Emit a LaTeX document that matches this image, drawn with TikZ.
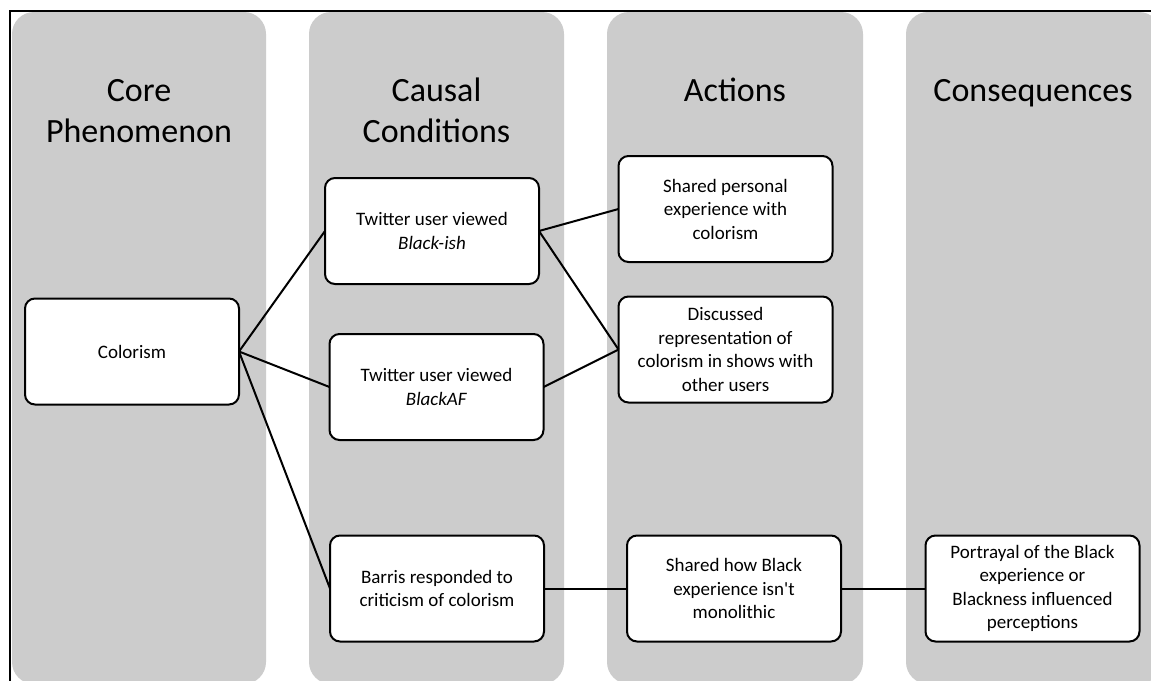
\documentclass[tikz,border=0pt]{standalone}
\usepackage{fontspec}
\setmainfont{Carlito}
\definecolor{colgray}{RGB}{204,204,204}
\begin{document}
\begin{tikzpicture}[x=1pt,y=-1pt,
  column/.style={fill=colgray, rounded corners=22pt},
  box/.style={draw, line width=2pt, fill=white, rounded corners=10pt,
    minimum width=214pt, minimum height=106pt, inner sep=0pt, outer sep=0pt,
    align=center, font=\fontsize{19}{23.5}\selectfont},
  header/.style={font=\fontsize{34}{41}\selectfont, align=center, anchor=base, inner sep=0pt},
  link/.style={line width=2pt},
  frameline/.style={line width=2pt}]
\clip (0,0) rectangle (1151,680);
\fill[white] (0,0) rectangle (1151,680);
% columns
\fill[column] (12,12) rectangle (266,684);
\fill[column] (309,12) rectangle (564,684);
\fill[column] (607,12) rectangle (863,684);
\fill[column] (906,12) rectangle (1161,684);
% frame
\draw[frameline] (10,700) -- (10,10.5) -- (1170,10.5);
% headers
\node[header] (h1) at (139,142) {Core\\Phenomenon};
\node[header] (h2) at (436.5,142) {Causal\\Conditions};
\node[header] (h3) at (735,101) {Actions};
\node[header] (h4) at (1033,101) {Consequences};
% boxes
\node[box] (colorism) at (132,351.5) {Colorism};
\node[box] (blackish) at (432,231) {Twitter user viewed\\\textit{Black-ish}};
\node[box] (blackaf) at (436.5,387) {Twitter user viewed\\\textit{BlackAF}};
\node[box] (barris) at (437,588.5) {Barris responded to\\criticism of colorism};
\node[box] (sharedpers) at (725.5,209) {Shared personal\\experience with\\colorism};
\node[box] (discussed) at (725.5,349.5) {Discussed\\representation of\\colorism in shows with\\other users};
\node[box] (sharedhow) at (734,588.5) {Shared how Black\\experience isn\textquotesingle t\\monolithic};
\node[box] (portrayal) at (1032.5,588.5) {Portrayal of the Black\\experience or\\Blackness influenced\\perceptions};
% connectors
\draw[link] (colorism.east) -- (blackish.west);
\draw[link] (colorism.east) -- (blackaf.west);
\draw[link] (colorism.east) -- (barris.west);
\draw[link] (blackish.east) -- (sharedpers.west);
\draw[link] (blackish.east) -- (discussed.west);
\draw[link] (blackaf.east) -- (discussed.west);
\draw[link] (barris.east) -- (sharedhow.west);
\draw[link] (sharedhow.east) -- (portrayal.west);
\end{tikzpicture}
\end{document}
